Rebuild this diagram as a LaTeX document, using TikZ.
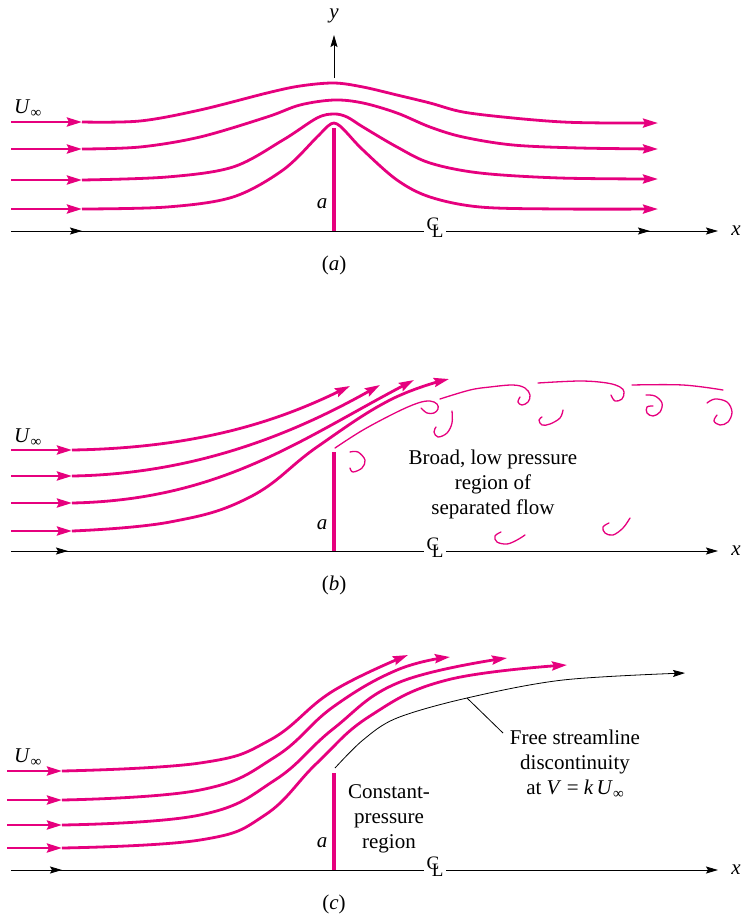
\documentclass[tikz,border=0pt]{standalone}
\usepackage{fontspec}
\setmainfont{Liberation Serif}
\usetikzlibrary{arrows.meta}
\definecolor{flow}{RGB}{230,0,126}
% subscript infinity used in U_inf
\newcommand\infsub{\raisebox{-4pt}{\fontsize{15}{15}\selectfont ∞}}
% centre-line mark: C and L overlapped
\newcommand\clsym{\raisebox{1pt}{C}\kern-7.5pt\raisebox{-6pt}{L}}
\begin{document}
\begin{tikzpicture}[x=1pt,y=-1pt,
  font=\fontsize{21}{25}\selectfont,
  stream/.style={draw=flow,line width=2.8pt},
  streamarrow/.style={stream,-{Stealth[length=15pt,width=9pt,inset=2pt]}},
  eddy/.style={draw=flow,line width=1.3pt,line cap=round},
  plate/.style={draw=flow,line width=3.6pt},
  axisline/.style={draw=black,line width=0.9pt},
  axisarrow/.style={axisline,-{Stealth[length=12pt,width=7pt,inset=2pt]}},
  clmark/.style={fill=white,inner xsep=2.5pt,inner ysep=0.5pt,anchor=base,font=\fontsize{19}{19}\selectfont},
  lbl/.style={inner sep=0pt},
  curve/.style={smooth,tension=0.7},
]
\useasboundingbox (0,0) rectangle (742,914);

% ================= (a) attached flow =================
\draw[axisarrow] (11,231) -- (718,231);
\draw[axisarrow] (11,231) -- (82,231);
\draw[axisarrow] (600,231) -- (650,231);
\node[clmark] (cla) at (435,231) {\clsym};
\node[lbl] (xa) at (736,231) {\textit{x}};
\draw[axisarrow] (334,78) -- (334,35);
\node[lbl] (ya) at (334,16) {\textit{y}};
\draw[plate] (334,231) -- (334,128);
\node[lbl] (aa) at (322,204) {\textit{a}};
\node[lbl,anchor=base west] (ua) at (14,113) {\textit{U}\infsub};
\node[lbl] (capa) at (334,265) {(\textit{a})};

\foreach \yy in {122,149,180,209}
  \draw[streamarrow] (11,\yy) -- (82,\yy);
\draw[streamarrow] plot[smooth,tension=0.55] coordinates {(82,122) (140,121) (200,110) (267,93) (300,86) (334,83) (363,87) (397,95) (430,103) (463,112) (513,118) (563,122) (610,123) (658,123)};
\draw[streamarrow] plot[smooth,tension=0.55] coordinates {(82,149) (140,147) (200,137) (267,117) (300,105) (334,100) (363,103) (397,113) (430,127) (463,137) (513,145) (580,148) (658,149)};
\draw[streamarrow] plot[smooth,tension=0.55] coordinates {(82,180) (167,177) (233,167) (283,140) (317,118) (334,114) (347,117) (363,127) (397,147) (430,163) (480,173) (560,178) (658,179)};
\draw[streamarrow] plot[smooth,tension=0.55] coordinates {(82,209) (167,207) (233,197) (283,170) (317,137) (328,126) (334,123) (340,126) (347,133) (363,150) (397,180) (430,197) (480,207) (560,209) (658,209)};

% ================= (b) separated flow =================
\draw[axisarrow] (11,551) -- (718,551);
\draw[axisarrow] (11,551) -- (68,551);
\node[clmark] (clb) at (435,551) {\clsym};
\node[lbl] (xb) at (736,551) {\textit{x}};
\draw[plate] (334,551) -- (334,452);
\node[lbl] (ab) at (322,525) {\textit{a}};
\node[lbl,anchor=base west] (ub) at (14,442) {\textit{U}\infsub};
\node[lbl] (capb) at (334,585) {(\textit{b})};
\node[lbl,align=center] (wake) at (493,484) {Broad, low pressure\\region of\\separated flow};

\foreach \yy in {450,476,503,531}
  \draw[streamarrow] (11,\yy) -- (72,\yy);
\draw[streamarrow] (72,450) .. controls (200,448) and (280,420) .. (350,386);
\draw[streamarrow] (72,476) .. controls (200,474) and (300,430) .. (380,385);
\draw[streamarrow] (72,503) .. controls (220,500) and (300,440) .. (414,380);
\draw[streamarrow] plot[curve] coordinates {(72,531) (170,522) (250,497) (317,447) (390,400) (449,379)};

% shear layer and eddies
\draw[eddy] plot[smooth,tension=0.6] coordinates {(335,448) (363,430) (397,412) (418,403) (430,401) (437,404) (438,409) (434,413) (427,413) (421,408)};
\draw[eddy] plot[smooth,tension=0.6] coordinates {(440,399) (470,390) (490,387) (513,385) (525,388) (530,395) (528,402) (522,405) (518,402) (520,397)};
\draw[eddy] plot[smooth,tension=0.6] coordinates {(452,411) (452,423) (447,433) (438,437) (434,432) (436,427)};
\draw[eddy] plot[smooth,tension=0.6] coordinates {(350,452) (358,452) (365,460) (362,468) (353,472) (350,468)};
\draw[eddy] plot[smooth,tension=0.6] coordinates {(563,410) (560,418) (550,424) (542,425) (539,420) (542,417)};
\draw[eddy] plot[smooth,tension=0.6] coordinates {(538,383) (580,381) (607,383) (620,387) (624,392) (622,399) (615,401) (611,395)};
\draw[eddy] plot[smooth,tension=0.6] coordinates {(632,385) (683,385) (723,390)};
\draw[eddy] plot[smooth,tension=0.6] coordinates {(646,395) (655,396) (662,403) (660,412) (653,416) (647,413) (647,407) (653,406)};
\draw[eddy] plot[smooth,tension=0.6] coordinates {(707,403) (715,399) (727,402) (732,412) (728,422) (720,425) (714,421) (717,415)};
\draw[eddy] plot[smooth,tension=0.6] coordinates {(501,532) (495,536) (497,542) (507,544) (517,540) (525,535)};
\draw[eddy] plot[smooth,tension=0.6] coordinates {(609,523) (603,527) (605,533) (613,535) (623,528) (630,518)};

% ================= (c) free streamline model =================
\draw[axisarrow] (11,870) -- (718,870);
\draw[axisarrow] (11,870) -- (62,870);
\node[clmark] (clc) at (435,870) {\clsym};
\node[lbl] (xc) at (736,870) {\textit{x}};
\draw[plate] (334,870) -- (334,773);
\node[lbl] (ac) at (322,843) {\textit{a}};
\node[lbl,anchor=base west] (uc) at (14,762) {\textit{U}\infsub};
\node[lbl] (capc) at (334,904) {(\textit{c})};
\node[lbl,align=center] (cpr) at (389,819) {Constant-\\pressure\\region};
\node[lbl,align=center] (fsl) at (575,764) {Free streamline\\discontinuity\\at \textit{V} = \textit{k\,U}\infsub};

\foreach \yy in {771,800,825,848}
  \draw[streamarrow] (7,\yy) -- (62,\yy);
\draw[streamarrow] plot[curve] coordinates {(62,771) (200,763) (270,740) (333,691) (408,655)};
\draw[streamarrow] plot[curve] coordinates {(62,800) (200,790) (275,757) (333,707) (397,670) (450,657)};
\draw[streamarrow] plot[curve] coordinates {(62,825) (200,815) (275,780) (333,729) (400,682) (507,658)};
\draw[streamarrow] plot[curve] coordinates {(62,848) (200,840) (265,815) (317,763) (370,716) (447,680) (567,665)};

\coordinate (fsmid) at (467,698);
\draw[axisline,line width=0.8pt,-{Stealth[length=12pt,width=7pt,inset=2pt]}] plot[smooth,tension=0.55] coordinates {(335,768) (363,740) (397,718) (467,698) (563,680) (685,673)};
\coordinate (fsleader) at (503,733);
\draw[axisline,line width=0.8pt] (fsmid) -- (fsleader);
\end{tikzpicture}
\end{document}
